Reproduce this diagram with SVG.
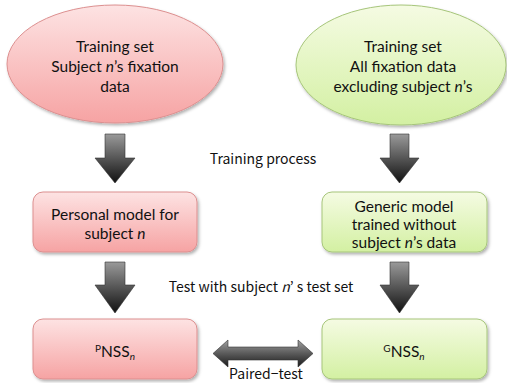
<svg xmlns="http://www.w3.org/2000/svg" width="507" height="383" viewBox="0 0 507 383">
  <defs>
    <linearGradient id="pinkFill" x1="0" y1="0" x2="0" y2="1">
      <stop offset="0" stop-color="#fde3e3"/>
      <stop offset="1" stop-color="#f6a3a3"/>
    </linearGradient>
    <linearGradient id="greenFill" x1="0" y1="0" x2="0" y2="1">
      <stop offset="0" stop-color="#f5fbe3"/>
      <stop offset="1" stop-color="#d3f0a2"/>
    </linearGradient>
    <linearGradient id="arrowFill" x1="0" y1="0" x2="0" y2="1">
      <stop offset="0" stop-color="#9a9a9a"/>
      <stop offset="0.5" stop-color="#555"/>
      <stop offset="1" stop-color="#111"/>
    </linearGradient>
    <linearGradient id="arrowFillH" x1="0" y1="0" x2="0" y2="1">
      <stop offset="0" stop-color="#a0a0a0"/>
      <stop offset="0.5" stop-color="#5a5a5a"/>
      <stop offset="1" stop-color="#1a1a1a"/>
    </linearGradient>
    <filter id="shadow" x="-10%" y="-10%" width="125%" height="130%">
      <feDropShadow dx="1.5" dy="2" stdDeviation="1.5" flood-color="#000" flood-opacity="0.3"/>
    </filter>
  </defs>
  <style>
    .pink { fill: url(#pinkFill); stroke: #dc8f8f; stroke-width: 1; }
    .green { fill: url(#greenFill); stroke: #a6c57a; stroke-width: 1; }
    .label { font-family: Lato, "Liberation Sans", sans-serif; font-size: 15.5px; fill: #111; text-anchor: middle; }
    .note { font-family: "Noto Sans CJK JP", "DejaVu Sans", sans-serif; font-size: 14px; fill: #111; text-anchor: middle; }
    .arrow { fill: url(#arrowFill); stroke: #333; stroke-width: 0.6; }
    .darrow { fill: url(#arrowFillH); stroke: #333; stroke-width: 0.6; }
    .sup { font-size: 10px; }
  </style>

  <!-- top ellipses: training sets -->
  <g id="train-personal">
    <ellipse class="pink" cx="115" cy="64" rx="108" ry="59" filter="url(#shadow)"/>
    <text class="label" x="115" y="52">Training set</text>
    <text class="label" x="115" y="72">Subject <tspan font-style="italic">n</tspan>’s fixation</text>
    <text class="label" x="115" y="92">data</text>
  </g>
  <g id="train-generic">
    <ellipse class="green" cx="401" cy="65" rx="105" ry="60" filter="url(#shadow)"/>
    <text class="label" x="403" y="52">Training set</text>
    <text class="label" x="403" y="72">All fixation data</text>
    <text class="label" x="403" y="92">excluding subject <tspan font-style="italic">n</tspan>’s</text>
  </g>

  <!-- model boxes -->
  <g id="model-personal">
    <rect class="pink" x="33" y="192" width="164" height="60" rx="10" filter="url(#shadow)"/>
    <text class="label" x="115" y="220">Personal model for</text>
    <text class="label" x="115" y="239">subject <tspan font-style="italic">n</tspan></text>
  </g>
  <g id="model-generic">
    <rect class="green" x="322" y="192" width="165" height="60" rx="10" filter="url(#shadow)"/>
    <text class="label" x="404" y="212">Generic model</text>
    <text class="label" x="404" y="230">trained without</text>
    <text class="label" x="404" y="248">subject <tspan font-style="italic">n</tspan>’s data</text>
  </g>

  <!-- result boxes -->
  <g id="nss-personal">
    <rect class="pink" x="33" y="319" width="164" height="60" rx="10" filter="url(#shadow)"/>
    <text class="label" x="115" y="357"><tspan class="sup" dy="-5">P</tspan><tspan dy="5">NSS</tspan><tspan class="sup" font-style="italic" dy="3">n</tspan></text>
  </g>
  <g id="nss-generic">
    <rect class="green" x="322" y="319" width="165" height="60" rx="10" filter="url(#shadow)"/>
    <text class="label" x="404" y="357"><tspan class="sup" dy="-5">G</tspan><tspan dy="5">NSS</tspan><tspan class="sup" font-style="italic" dy="3">n</tspan></text>
  </g>

  <!-- block arrows -->
  <g id="connectors">
    <path class="arrow" d="M105,134 H125 V158 H135 L115,183 L95,158 H105 Z"/>
    <path class="arrow" d="M390,134 H409 V158 H419 L399.5,183 L380,158 H390 Z"/>
    <path class="arrow" d="M105,262 H125 V285 H135 L115,313 L95,285 H105 Z"/>
    <path class="arrow" d="M390,262 H409 V285 H419 L399.5,313 L380,285 H390 Z"/>
    <path class="darrow" d="M213,353.5 L228,340 V347 H298 V340 L313,353.5 L298,367 V360 H228 V367 Z"/>
  </g>

  <!-- process labels -->
  <text class="note" x="263" y="164">Training process</text>
  <text class="note" x="261" y="292">Test with subject <tspan font-style="italic">n</tspan>’ s test set</text>
  <text class="note" x="266" y="379">Paired−test</text>
</svg>
